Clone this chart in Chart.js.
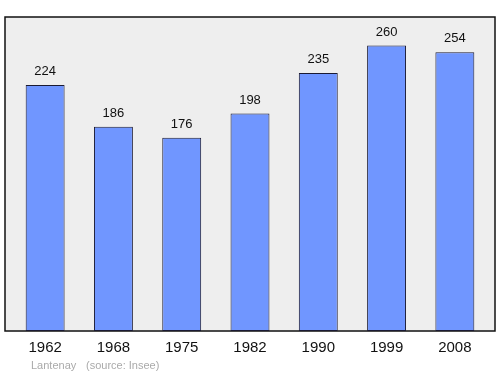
<!DOCTYPE html>
<html>
<head>
<meta charset="utf-8">
<script src="https://cdn.jsdelivr.net/npm/chart.js@4"></script>
<style>
  html, body { margin: 0; padding: 0; background: #fff; }
  #wrap { width: 500px; height: 374px; }
</style>
</head>
<body>
<div id="wrap"><canvas id="popChart" width="500" height="374"></canvas></div>
<script>
const years = ['1962', '1968', '1975', '1982', '1990', '1999', '2008'];
const population = [224, 186, 176, 198, 235, 260, 254];
const commune = 'Lantenay';
const source = '(source: Insee)';

// plot frame drawn a little wider than the category area
const framePlugin = {
  id: 'frame',
  beforeDatasetsDraw(chart) {
    const { ctx, chartArea } = chart;
    ctx.save();
    ctx.fillStyle = '#eeeeee';
    ctx.fillRect(5, chartArea.top, 490, chartArea.bottom - chartArea.top);
    ctx.strokeStyle = '#111111';
    ctx.lineWidth = 1.5;
    ctx.strokeRect(5, chartArea.top, 490, chartArea.bottom - chartArea.top);
    ctx.restore();
  },
  afterDatasetsDraw(chart) {
    const { ctx } = chart;
    const meta = chart.getDatasetMeta(0);
    ctx.save();
    ctx.font = '13px "Liberation Sans", Arial, sans-serif';
    ctx.fillStyle = '#111';
    ctx.textAlign = 'center';
    ctx.textBaseline = 'bottom';
    meta.data.forEach((bar, i) => {
      ctx.fillText(String(population[i]), bar.x, bar.y - 7);
    });
    ctx.restore();
  },
  afterDraw(chart) {
    const { ctx } = chart;
    ctx.save();
    ctx.font = '11px "Liberation Sans", Arial, sans-serif';
    ctx.fillStyle = '#aaaaaa';
    ctx.textBaseline = 'middle';
    ctx.fillText(commune, 31, 366);
    ctx.fillText(source, 86, 366);
    ctx.restore();
  }
};

new Chart(document.getElementById('popChart'), {
  type: 'bar',
  data: {
    labels: years,
    datasets: [{
      data: population,
      backgroundColor: '#7096ff',
      borderColor: '#1a1a33',
      borderWidth: 1,
      borderSkipped: false,
      barPercentage: 0.57,
      categoryPercentage: 1
    }]
  },
  options: {
    responsive: false,
    animation: false,
    layout: { padding: { left: 11, right: 11, top: 17, bottom: 9 } },
    plugins: { legend: { display: false }, tooltip: { enabled: false } },
    scales: {
      x: {
        grid: { display: false, drawTicks: false },
        border: { display: false },
        ticks: { color: '#111', padding: 8, font: { family: '"Liberation Sans", Arial, sans-serif', size: 15 } }
      },
      y: { display: false, min: 0, max: 286 }
    }
  },
  plugins: [framePlugin]
});
</script>
</body>
</html>
